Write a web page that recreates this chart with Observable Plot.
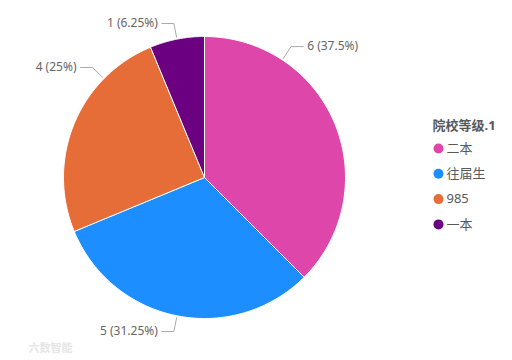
<!DOCTYPE html>
<html><head><meta charset="utf-8">
<script src="https://cdn.jsdelivr.net/npm/d3@7"></script>
<script src="https://cdn.jsdelivr.net/npm/@observablehq/plot@0.6"></script>
<style>body{margin:0;background:#fff}</style>
</head><body><div id="chart"></div>
<script>
// ---- data ----
const categories = ["二本", "往届生", "985", "一本"];
const values = [6, 5, 4, 1];
const colors = ["#DF46A9", "#1D8EFF", "#E66D37", "#6B0080"];
const legendTitle = "院校等级.1";
const watermark = "六数智能";
// ---- layout (leader anchor angles, degrees clockwise from top) ----
const labelAngles = [33.5, 191.25, 314.5, 348.75];

const W = 512, H = 360, cx = 204, cy = 177, R = 141;
const total = d3.sum(values);
const arcs = d3.pie().sort(null).value(d => d.value)(
  categories.map((c, i) => ({cat: c, value: values[i]}))
);

const px = (a, r) => cx + r * Math.sin(a);
const py = (a, r) => cy - r * Math.cos(a);

const slicePts = [];
arcs.forEach(a => {
  const cat = a.data.cat;
  slicePts.push({cat, x: cx, y: cy});
  const n = 120;
  for (let k = 0; k <= n; k++) {
    const t = a.startAngle + (a.endAngle - a.startAngle) * k / n;
    slicePts.push({cat, x: px(t, R), y: py(t, R)});
  }
  slicePts.push({cat, x: cx, y: cy});
});

const leaderPts = [], labels = [];
categories.forEach((c, i) => {
  const a = labelAngles[i] * Math.PI / 180;
  const side = Math.sin(a) >= 0 ? 1 : -1;
  const x0 = px(a, 143), y0 = py(a, 143);
  const x1 = px(a, 157), y1 = py(a, 157);
  const x2 = x1 + side * 12;
  leaderPts.push({k: c, x: x0, y: y0}, {k: c, x: x1, y: y1}, {k: c, x: x2, y: y1});
  const pct = +(values[i] / total * 100).toFixed(2);
  labels.push({x: x2 + side * 4, y: y1, text: `${values[i]} (${pct}%)`, anchor: side > 0 ? "start" : "end"});
});

const legendItems = categories.map((c, i) => ({cat: c, x: 438, y: 148 + i * 25.3}));

const font = "'Noto Sans', 'Noto Sans CJK SC', sans-serif";

const chart = Plot.plot({
  width: W, height: H,
  margin: 0,
  style: {fontFamily: font, background: "#fff"},
  x: {domain: [0, W], range: [0, W], axis: null},
  y: {domain: [0, H], range: [0, H], axis: null},
  color: {domain: categories, range: colors},
  marks: [
    Plot.line(slicePts, {x: "x", y: "y", z: "cat", fill: "cat", stroke: "#fff", strokeWidth: 1, strokeLinejoin: "round", curve: "linear"}),
    Plot.line(leaderPts, {x: "x", y: "y", z: "k", stroke: "#aaaaaa", strokeWidth: 1}),
    Plot.text(labels.filter(d => d.anchor === "start"), {x: "x", y: "y", text: "text", textAnchor: "start", fill: "#666", fontSize: 12}),
    Plot.text(labels.filter(d => d.anchor === "end"), {x: "x", y: "y", text: "text", textAnchor: "end", fill: "#666", fontSize: 12}),
    Plot.text([legendTitle], {x: () => 432, y: () => 125, text: d => d, textAnchor: "start", fill: "#595959", fontSize: 13, fontWeight: "bold"}),
    Plot.dot(legendItems, {x: "x", y: "y", fill: "cat", r: 5}),
    Plot.text(legendItems, {x: d => d.x + 8, y: "y", text: "cat", textAnchor: "start", fill: "#595959", fontSize: 13}),
    Plot.text([watermark], {x: () => 28, y: () => 348, text: d => d, textAnchor: "start", fill: "#e6e6e6", fontSize: 11, fontWeight: "bold"})
  ]
});
document.getElementById("chart").appendChild(chart);
</script>
</body></html>
